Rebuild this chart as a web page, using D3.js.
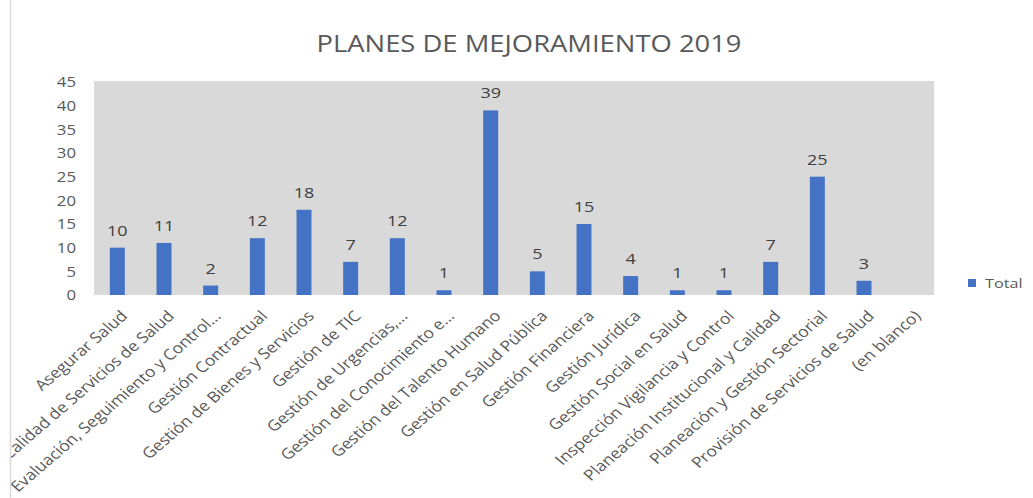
<!DOCTYPE html>
<html>
<head>
<meta charset="utf-8">
<script src="https://cdn.jsdelivr.net/npm/d3@7"></script>
<style>
  html, body { margin: 0; padding: 0; background: #fff; }
  svg { display: block; font-family: "Open Sans", sans-serif; }
</style>
</head>
<body>
<svg id="chart" width="1033" height="498"></svg>
<script>
// Planes de mejoramiento 2019 por proceso
const categories = [
  "Asegurar Salud",
  "Calidad de Servicios de Salud",
  "Evaluación, Seguimiento y Control…",
  "Gestión Contractual",
  "Gestión de Bienes y Servicios",
  "Gestión de TIC",
  "Gestión de Urgencias,…",
  "Gestión del Conocimiento e…",
  "Gestión del Talento Humano",
  "Gestión en Salud Pública",
  "Gestión Financiera",
  "Gestión Jurídica",
  "Gestión Social en Salud",
  "Inspección Vigilancia y Control",
  "Planeación Institucional y Calidad",
  "Planeación y Gestión Sectorial",
  "Provisión de Servicios de Salud",
  "(en blanco)"
];
const totals = [10, 11, 2, 12, 18, 7, 12, 1, 39, 5, 15, 4, 1, 1, 7, 25, 3, null];
const yTickValues = [0, 5, 10, 15, 20, 25, 30, 35, 40, 45];
const seriesName = "Total";
const chartTitle = "PLANES DE MEJORAMIENTO 2019";

const W = 1033, H = 498;
const plot = { left: 94, right: 934, top: 82, bottom: 295 };
const stretch = 1.2;             // horizontal text proportion
const labelStretch = 1.16;       // proportion of the slanted category labels
const barColor = "#4472C4";
const textColor = "#595959";

const svg = d3.select("#chart");

// frame clip (labels are cut at the chart's left border)
svg.append("defs").append("clipPath").attr("id", "frame")
  .append("rect").attr("x", 11).attr("y", 0).attr("width", W - 11).attr("height", H);

const root = svg.append("g").attr("clip-path", "url(#frame)");

svg.append("line")
  .attr("x1", 10.5).attr("x2", 10.5).attr("y1", 0).attr("y2", H)
  .attr("stroke", "#d9d9d9").attr("stroke-width", 1.5);

const x = d3.scaleBand()
  .domain(categories)
  .range([plot.left, plot.right])
  .paddingInner(0.679)
  .paddingOuter(0.679 / 2);

const y = d3.scaleLinear()
  .domain([0, 45])
  .range([plot.bottom, plot.top]);

// plot area background
root.append("rect")
  .attr("x", plot.left).attr("y", y(45) - 1)
  .attr("width", plot.right - plot.left)
  .attr("height", plot.bottom - y(45) + 1)
  .attr("fill", "#d9d9d9");

// title
root.append("text")
  .attr("x", 529).attr("y", 52)
  .attr("text-anchor", "middle")
  .attr("font-size", 23)
  .attr("fill", textColor)
  .attr("textLength", 425)
  .attr("lengthAdjust", "spacingAndGlyphs")
  .text(chartTitle);

// y axis labels
const yAxis = root.append("g")
  .attr("transform", `translate(${plot.left - 18},0)`)
  .call(d3.axisLeft(y).tickValues(yTickValues).tickSize(0).tickPadding(0));
yAxis.select(".domain").remove();
yAxis.selectAll("text")
  .attr("x", 0)
  .attr("font-family", "Open Sans, sans-serif")
  .attr("font-size", 14)
  .attr("fill", textColor)
  .attr("text-anchor", "end")
  .attr("transform", `scale(${stretch},1)`)
  .attr("dy", "0.35em");

// x axis labels
const xAxis = root.append("g")
  .attr("transform", `translate(0,${plot.bottom})`)
  .call(d3.axisBottom(x).tickSize(0).tickPadding(0));
xAxis.select(".domain").remove();
xAxis.selectAll(".tick text")
  .attr("y", 0).attr("dy", "0.75em")
  .attr("font-family", "Open Sans, sans-serif")
  .attr("font-size", 15)
  .attr("fill", textColor)
  .attr("text-anchor", "end")
  .attr("transform", `translate(2,14) scale(${labelStretch},1) rotate(-45)`);

// bars
const data = categories.map((c, i) => ({ c, v: totals[i] })).filter(d => d.v != null);

root.append("g").selectAll("rect")
  .data(data).join("rect")
  .attr("x", d => x(d.c))
  .attr("y", d => y(d.v))
  .attr("width", x.bandwidth())
  .attr("height", d => y(0) - y(d.v))
  .attr("fill", barColor);

// value labels
root.append("g").selectAll("text")
  .data(data).join("text")
  .attr("transform", d => `translate(${x(d.c) + x.bandwidth() / 2},${y(d.v) - 12}) scale(${stretch},1)`)
  .attr("text-anchor", "middle")
  .attr("font-size", 15)
  .attr("fill", "#404040")
  .text(d => d.v);

// legend
const legend = root.append("g").attr("transform", "translate(968,279)");
legend.append("rect").attr("width", 8).attr("height", 8).attr("fill", barColor);
legend.append("text")
  .attr("transform", `translate(17,8.5) scale(${stretch},1)`)
  .attr("font-size", 13.5)
  .attr("fill", textColor)
  .text(seriesName);
</script>
</body>
</html>
